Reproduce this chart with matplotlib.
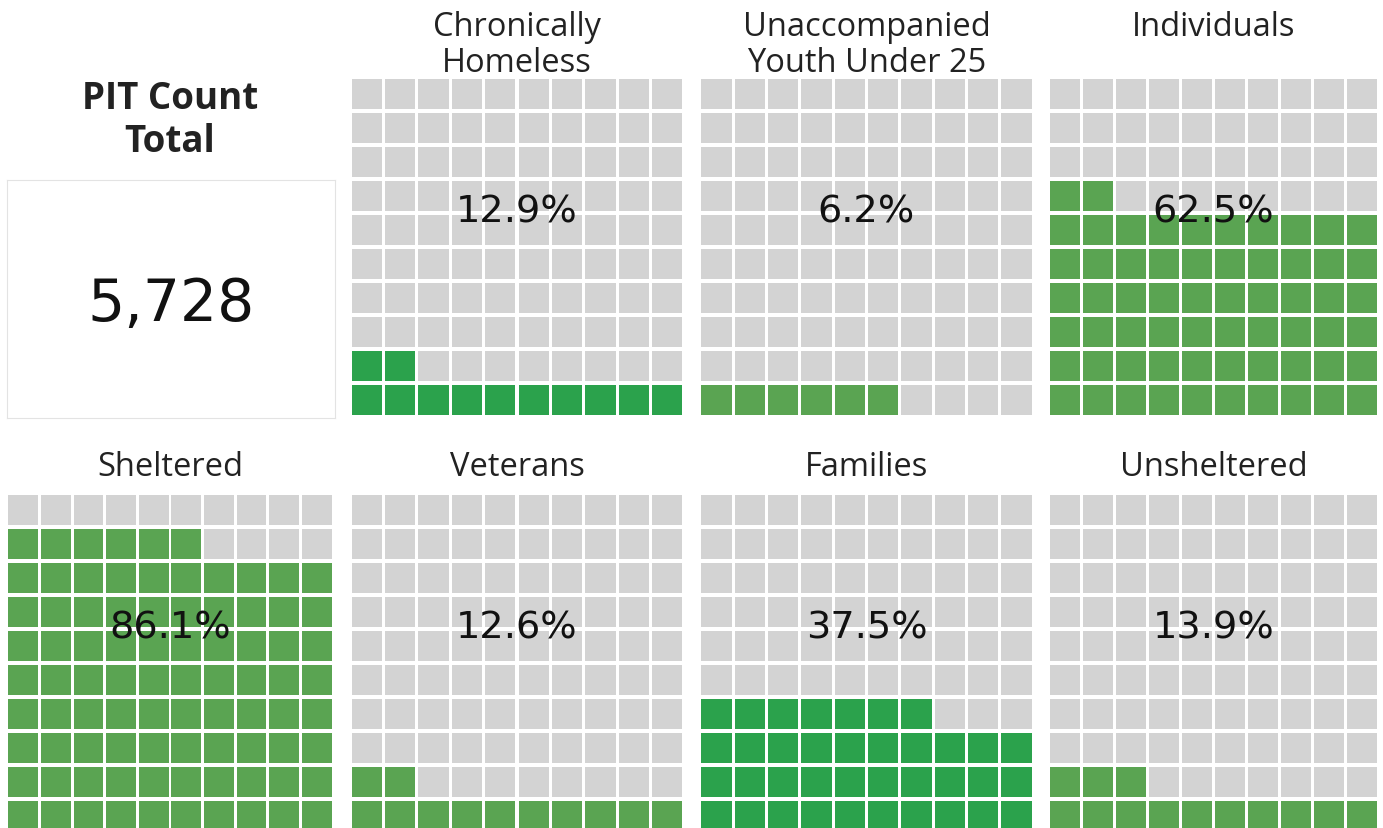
import matplotlib.pyplot as plt
from matplotlib.patches import Rectangle

W, H = 1383, 829

total_label = "PIT Count\nTotal"
total_value = "5,728"

titles = ["Chronically\nHomeless", "Unaccompanied\nYouth Under 25", "Individuals",
          "Sheltered", "Veterans", "Families", "Unsheltered"]
percents = [12.9, 6.2, 62.5, 86.1, 12.6, 37.5, 13.9]
fill_colors = ["#2ba24c", "#5aa452", "#5aa452",
               "#5aa452", "#5aa452", "#2ba24c", "#5aa452"]

gray = "#d3d3d3"

# pixel boxes of each waffle grid (left, top, right, bottom)
grid_boxes = [(350, 78, 684, 418), (700, 78, 1033, 418), (1049, 78, 1378, 418),
              (7, 494, 333, 834), (350, 494, 684, 834), (700, 494, 1033, 834),
              (1049, 494, 1378, 834)]
title_y = [27, 27, 27, 468, 468, 468, 468]

fig = plt.figure(figsize=(W / 100, H / 100), dpi=100)
fig.patch.set_facecolor("white")


def px_axes(l, t, r, b):
    return fig.add_axes([l / W, 1 - b / H, (r - l) / W, (b - t) / H])


gap = 0.09
for i, pct in enumerate(percents):
    l, t, r, b = grid_boxes[i]
    ax = px_axes(l, t, r, b)
    n = int(pct)  # filled squares, rounded down
    for k in range(100):
        row, col = divmod(k, 10)
        c = fill_colors[i] if k < n else gray
        ax.add_patch(Rectangle((col + gap / 2, row + gap / 2), 1 - gap, 1 - gap,
                               facecolor=c, edgecolor="none"))
    ax.text(5, 6.03, f"{pct:.1f}%", ha="center", va="center",
            fontsize=27.5, color="#111111", family="DejaVu Sans")
    ax.set_xlim(0, 10)
    ax.set_ylim(0, 10)
    ax.axis("off")
    cx = (l + r) / 2 / W
    lines = titles[i].split("\n")
    for j, line in enumerate(lines):
        fig.text(cx, 1 - (title_y[i] + 37 * j) / H, line, ha="center",
                 va="center", fontsize=23.5, color="#222222", family="Open Sans")

# total box
ax0 = px_axes(7, 181, 335, 419)
ax0.set_xticks([])
ax0.set_yticks([])
for s in ax0.spines.values():
    s.set_color("#e3e3e3")
ax0.text(0.5, 0.48, total_value, ha="center", va="center", fontsize=42,
         color="#111111", family="DejaVu Sans", transform=ax0.transAxes)
for j, line in enumerate(total_label.split("\n")):
    fig.text(170 / W, 1 - (99 + 43 * j) / H, line, ha="center", va="center",
             fontsize=26.5, fontweight="bold", color="#222222", family="Open Sans")

fig.savefig("out.png", dpi=100)
